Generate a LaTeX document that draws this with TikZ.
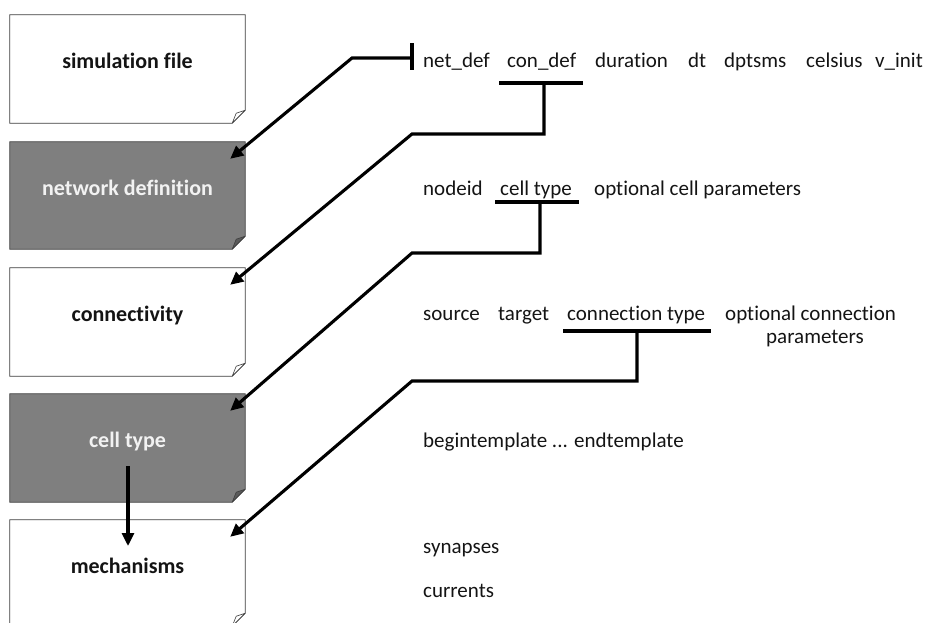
\documentclass[tikz,border=0pt]{standalone}
\usepackage{fontspec}
\setmainfont{Carlito}[Ligatures={NoCommon,NoRequired,NoContextual}]
\usetikzlibrary{calc,arrows.meta}
\definecolor{bordercol}{HTML}{3F3F3F}
\definecolor{boxgrey}{HTML}{7F7F7F}
\definecolor{foldgrey}{HTML}{5A5A5A}
\definecolor{txtcol}{HTML}{141414}
\begin{document}
\begin{tikzpicture}[x=1pt,y=-1pt,
  txt/.style={font=\fontsize{21}{24}\selectfont, text=txtcol, inner sep=0pt, anchor=base west},
  lab/.style={font=\fontsize{22}{26}\selectfont\bfseries, inner sep=0pt, anchor=base},
  boxnode/.style={minimum width=235pt, minimum height=#1, inner sep=0pt},
  link/.style={line width=3.1pt},
  arr/.style={line width=3.1pt, -{Triangle[length=13pt,width=12pt]}},
]
\useasboundingbox (0,0) rectangle (931,622);
\clip (0,0) rectangle (931,622);

% box nodes (frames drawn below)
\node[boxnode=108pt] (b1) at (127.5,69) {};
\node[boxnode=107pt] (b2) at (127.5,195.5) {};
\node[boxnode=108pt] (b3) at (127.5,322) {};
\node[boxnode=108pt] (b4) at (127.5,448) {};
\node[boxnode=106pt] (b5) at (127.5,573) {};

\foreach \b/\f/\d in {b1/white/white, b2/boxgrey/foldgrey, b3/white/white, b4/boxgrey/foldgrey, b5/white/white}{
  \filldraw[fill=\f, draw=bordercol, line width=0.8pt]
    (\b.north west) -- (\b.north east) -- ($(\b.south east)+(0,-13)$)
    -- ($(\b.south east)+(-13,0)$) -- (\b.south west) -- cycle;
  \filldraw[fill=\d, draw=bordercol, line width=0.6pt, line join=round]
    ($(\b.south east)+(0,-13)$) -- ($(\b.south east)+(-13,0)$)
    -- ($(\b.south east)+(-9,-10)$) -- cycle;
}

% box labels
\node[lab, text=txtcol] (lab1) at (127.5,68) {simulation file};
\node[lab, text=white!95!black] (lab2) at (127.5,195) {network definition};
\node[lab, text=txtcol] (lab3) at (127.5,321) {connectivity};
\node[lab, text=white!95!black] (lab4) at (127.5,447) {cell type};
\node[lab, text=txtcol] (lab5) at (127.5,573) {mechanisms};

% right-hand texts
\node[txt] (r1a) at (423,67) {net\_def};
\node[txt] (r1b) at (507,67) {con\_def};
\node[txt] (r1c) at (595,67) {duration};
\node[txt] (r1d) at (688,67) {dt};
\node[txt] (r1e) at (724,67) {dptsms};
\node[txt] (r1f) at (806,67) {celsius};
\node[txt] (r1g) at (875,67) {v\_init};

\node[txt] (r2a) at (423,195) {nodeid};
\node[txt] (r2b) at (500,195) {cell type};
\node[txt] (r2c) at (594,195) {optional cell parameters};

\node[txt] (r3a) at (423,320) {source};
\node[txt] (r3b) at (498,320) {target};
\node[txt] (r3c) at (567,320) {connection type};
\node[txt] (r3d) at (725,320) {optional connection};
\node[txt] (r3e) at (766,343) {parameters};

\node[txt] (r4) at (423,447) {begintemplate ... endtemplate};
\node[txt] (r5) at (423,553) {synapses};
\node[txt] (r6) at (423,597) {currents};

% arrow tip targets
\coordinate (t2) at ($(b2.north east)+(-15,17)$);
\coordinate (t3) at ($(b3.north east)+(-15,17)$);
\coordinate (t4) at ($(b4.north east)+(-15,17)$);
\coordinate (t5) at ($(b5.north east)+(-15,17)$);

% net_def bar
\coordinate (bar1t) at (412,43);
\coordinate (bar1b) at (412,70);
\coordinate (bar1m) at (412,58);
\coordinate (k1) at (352,58);
\draw[link] (bar1t) -- (bar1b);
\draw[arr] (bar1m) -- (k1) -- (t2);

% con_def
\coordinate (u1l) at (499,83);
\coordinate (u1r) at (583,83);
\coordinate (u1m) at (544,83);
\coordinate (k2) at (412,134);
\draw[link] (u1l) -- (u1r);
\draw[arr] (u1m) |- (k2) -- (t3);

% cell type
\coordinate (u2l) at (495,202);
\coordinate (u2r) at (579,202);
\coordinate (u2m) at (540,202);
\coordinate (k3) at (412,253);
\draw[link] (u2l) -- (u2r);
\draw[arr] (u2m) |- (k3) -- (t4);

% connection type
\coordinate (u3l) at (563,331);
\coordinate (u3r) at (711,331);
\coordinate (u3m) at (637,331);
\coordinate (k4) at (412,381);
\draw[link] (u3l) -- (u3r);
\draw[arr] (u3m) |- (k4) -- (t5);

% cell type -> mechanisms
\draw[arr] ($(lab4.base)+(0.5,19)$) -- ($(lab5.base)+(0.5,-27)$);
\end{tikzpicture}
\end{document}
